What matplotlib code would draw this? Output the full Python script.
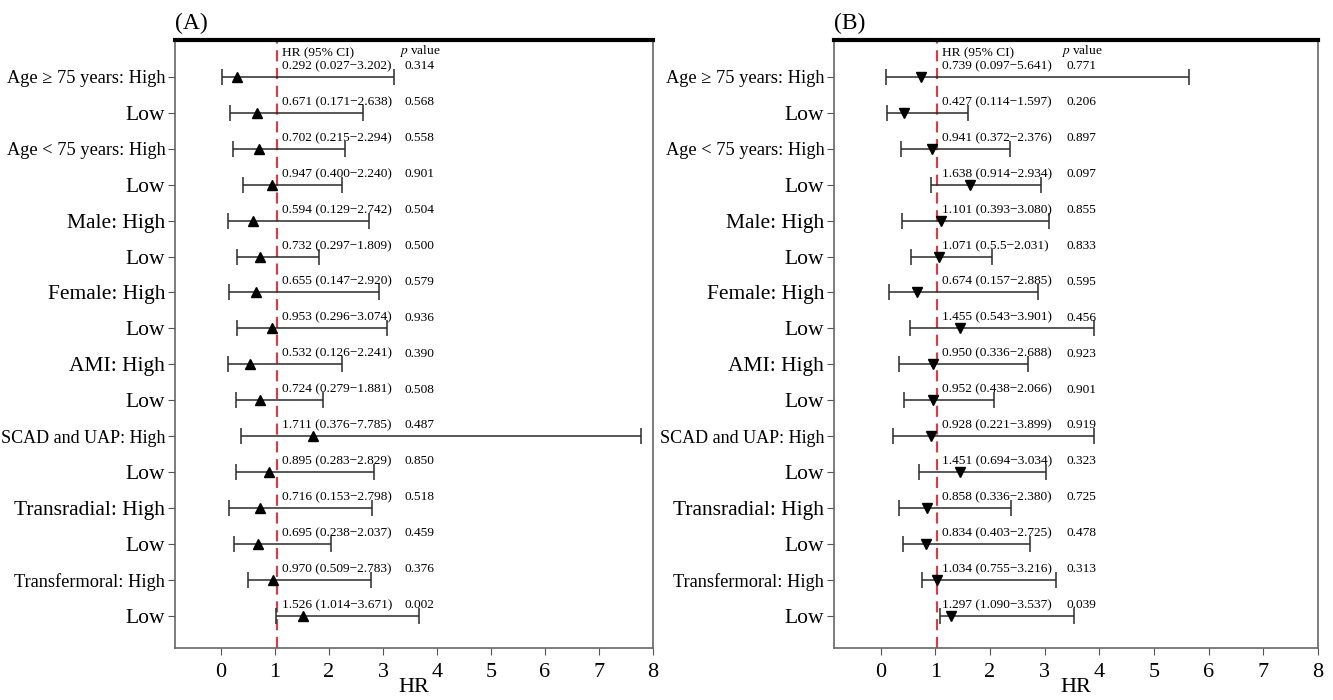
import numpy as np
import matplotlib
matplotlib.use("Agg")
from matplotlib import pyplot as plt

plt.rcParams['font.family'] = ['Liberation Serif', 'DejaVu Serif']
plt.rcParams['mathtext.fontset'] = 'stix'

labels = ["Age \u2265 75 years: High", "Low", "Age < 75 years: High", "Low",
          "Male: High", "Low", "Female: High", "Low",
          "AMI: High", "Low", "SCAD and UAP: High", "Low",
          "Transradial: High", "Low", "Transfermoral: High", "Low"]
# the squeezed labels in the original come out narrower
label_sizes = [13.2, 15.5, 13.2, 15.5, 15.5, 15.5, 15.5, 15.5,
               15.5, 15.5, 13, 15.5, 15.5, 15.5, 13.2, 15.5]

# panel A
hr_a = [0.292, 0.671, 0.702, 0.947, 0.594, 0.732, 0.655, 0.953,
        0.532, 0.724, 1.711, 0.895, 0.716, 0.695, 0.970, 1.526]
lo_a = [0.027, 0.171, 0.215, 0.400, 0.129, 0.297, 0.147, 0.296,
        0.126, 0.279, 0.376, 0.283, 0.153, 0.238, 0.509, 1.014]
hi_a = [3.202, 2.638, 2.294, 2.240, 2.742, 1.809, 2.920, 3.074,
        2.241, 1.881, 7.785, 2.829, 2.798, 2.037, 2.783, 3.671]
p_a = ["0.314", "0.568", "0.558", "0.901", "0.504", "0.500", "0.579", "0.936",
       "0.390", "0.508", "0.487", "0.850", "0.518", "0.459", "0.376", "0.002"]

# panel B
hr_b = [0.739, 0.427, 0.941, 1.638, 1.101, 1.071, 0.674, 1.455,
        0.950, 0.952, 0.928, 1.451, 0.858, 0.834, 1.034, 1.297]
lo_b = [0.097, 0.114, 0.372, 0.914, 0.393, 0.55, 0.157, 0.543,
        0.336, 0.438, 0.221, 0.694, 0.336, 0.403, 0.755, 1.090]
hi_b = [5.641, 1.597, 2.376, 2.934, 3.080, 2.031, 2.885, 3.901,
        2.688, 2.066, 3.899, 3.034, 2.380, 2.725, 3.216, 3.537]
p_b = ["0.771", "0.206", "0.897", "0.097", "0.855", "0.833", "0.595", "0.456",
       "0.923", "0.901", "0.919", "0.323", "0.725", "0.478", "0.313", "0.039"]
lo_b_text = ["0.097", "0.114", "0.372", "0.914", "0.393", "0.5.5", "0.157", "0.543",
             "0.336", "0.438", "0.221", "0.694", "0.336", "0.403", "0.755", "1.090"]


def ci_strings(hr, lo, hi, lo_txt=None):
    out = []
    for i in range(len(hr)):
        lt = lo_txt[i] if lo_txt else "%.3f" % lo[i]
        out.append("%.3f (%s\u2212%.3f)" % (hr[i], lt, hi[i]))
    return out


def forest(ax, hr, lo, hi, pv, marker, tag, lo_txt=None):
    n = len(hr)
    y = np.arange(n, 0, -1)
    hr = np.array(hr)
    err = [hr - np.array(lo), np.array(hi) - hr]
    ax.errorbar(hr, y, xerr=err, fmt='none', ecolor='#2a2a2a', elinewidth=1.1,
                capsize=6, capthick=1.1, zorder=2)
    ax.plot(hr, y, linestyle='none', marker=marker, color='black', markersize=7, zorder=3)
    ax.axvline(1.03, color='#d0404a', linestyle=(0, (5, 3)), linewidth=1.6, zorder=1)
    texts = ci_strings(hr, lo, hi, lo_txt)
    for i in range(n):
        ax.text(1.13, y[i] + 0.13, texts[i], fontsize=9.6, va='bottom', ha='left')
        ax.text(3.4, y[i] + 0.13, pv[i], fontsize=9.6, va='bottom', ha='left')
    ax.text(1.13, 16.5, "HR (95% CI)", fontsize=9.6, va='bottom', ha='left')
    ax.text(3.3, 16.5, "$p$ value", fontsize=9.6, va='bottom', ha='left')
    ax.set_xlim(-0.85, 8)
    ax.set_ylim(0.1, 17.03)
    ax.set_yticks(y)
    ax.set_yticklabels(labels)
    for t, s in zip(ax.get_yticklabels(), label_sizes):
        t.set_fontsize(s)
    ax.set_xticks(range(9))
    ax.tick_params(axis='x', labelsize=16, length=5, color='#555555', pad=6)
    ax.tick_params(axis='y', length=5, color='#555555', pad=2)
    ax.set_xlabel("HR", fontsize=16, labelpad=-3)
    for s in ['left', 'right', 'bottom']:
        ax.spines[s].set_color('#666666')
        ax.spines[s].set_linewidth(1.2)
    ax.spines['top'].set_color('black')
    ax.spines['top'].set_linewidth(3)
    ax.text(-0.85, 17.2, tag, fontsize=17, va='bottom', ha='left')


fig = plt.figure(figsize=(13.33, 7), dpi=100)
ax1 = fig.add_axes([0.1313, 0.0743, 0.3586, 0.8686])
ax2 = fig.add_axes([0.6257, 0.0743, 0.3631, 0.8686])

forest(ax1, hr_a, lo_a, hi_a, p_a, '^', "(A)")
forest(ax2, hr_b, lo_b, hi_b, p_b, 'v', "(B)", lo_b_text)

fig.savefig("out.png", dpi=100)
